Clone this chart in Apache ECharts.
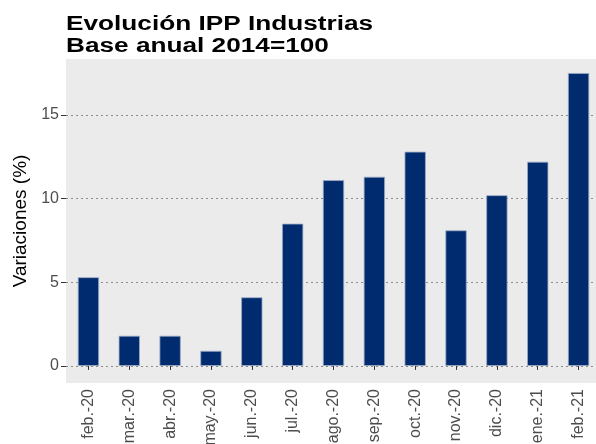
<!DOCTYPE html>
<html>
<head>
<meta charset="utf-8">
<script src="https://cdn.jsdelivr.net/npm/echarts@6/dist/echarts.min.js"></script>
<style>html,body{margin:0;padding:0;background:#fff}#c{width:596px;height:444px}</style>
</head>
<body>
<div id="c"></div>
<script>
var categories = ['feb.-20','mar.-20','abr.-20','may.-20','jun.-20','jul.-20','ago.-20','sep.-20','oct.-20','nov.-20','dic.-20','ene.-21','feb.-21'];
var values = [5.3, 1.8, 1.8, 0.9, 4.1, 8.5, 11.1, 11.3, 12.8, 8.1, 10.2, 12.2, 17.5];
var yTicks = [0, 5, 10, 15];
var titleLines = ['Evolución IPP Industrias', 'Base anual 2014=100'];
var yName = 'Variaciones (%)';

var yMin = -1.02, yMax = 18.34;
var chart = echarts.init(document.getElementById('c'), null, {renderer: 'canvas'});
chart.setOption({
  animation: false,
  graphic: [{
    type: 'text', left: 66, top: 13, scaleX: 1.31, scaleY: 1,
    style: {
      text: titleLines.join('\n'),
      font: 'bold 20px "Liberation Sans", Arial, sans-serif',
      fill: '#000', lineHeight: 22
    }
  }],
  grid: [
    {left: 68, top: 59, width: 531, bottom: 61, show: false, outerBoundsMode: 'none', containLabel: false},
    {left: 66, top: 59, right: 0, bottom: 61, show: true, backgroundColor: '#EBEBEB', borderWidth: 0, outerBoundsMode: 'none', containLabel: false}
  ],
  xAxis: [
    {
      type: 'category', gridIndex: 0, data: categories,
      axisLine: {show: false},
      axisTick: {show: true, alignWithLabel: true, length: 4, lineStyle: {color: '#333333'}},
      axisLabel: {rotate: 90, fontFamily: 'Liberation Sans, Arial, sans-serif', fontSize: 16, color: '#4D4D4D', margin: 6, interval: 0}
    },
    {type: 'value', gridIndex: 1, show: false, min: 0, max: 1}
  ],
  yAxis: [
    {type: 'value', gridIndex: 0, min: yMin, max: yMax, show: false},
    {
      type: 'value', gridIndex: 1, min: yMin, max: yMax,
      name: yName, nameLocation: 'middle', nameGap: 34,
      nameTextStyle: {fontFamily: 'Liberation Sans, Arial, sans-serif', fontSize: 19, color: '#000'},
      axisLine: {show: false},
      axisTick: {show: true, length: 5, lineStyle: {color: '#333333'}, customValues: yTicks},
      axisLabel: {fontFamily: 'Liberation Sans, Arial, sans-serif', fontSize: 16, color: '#4D4D4D', margin: 7, customValues: yTicks},
      splitLine: {show: true, lineStyle: {color: '#8C8C8C', type: [2, 3], width: 1}},
      interval: 5
    }
  ],
  series: [
    {
      type: 'bar', xAxisIndex: 0, yAxisIndex: 0, data: values, barWidth: '52%',
      itemStyle: {color: '#002B6F', borderColor: '#9AA9C4', borderWidth: 0.8}
    }
  ]
});
</script>
</body>
</html>
